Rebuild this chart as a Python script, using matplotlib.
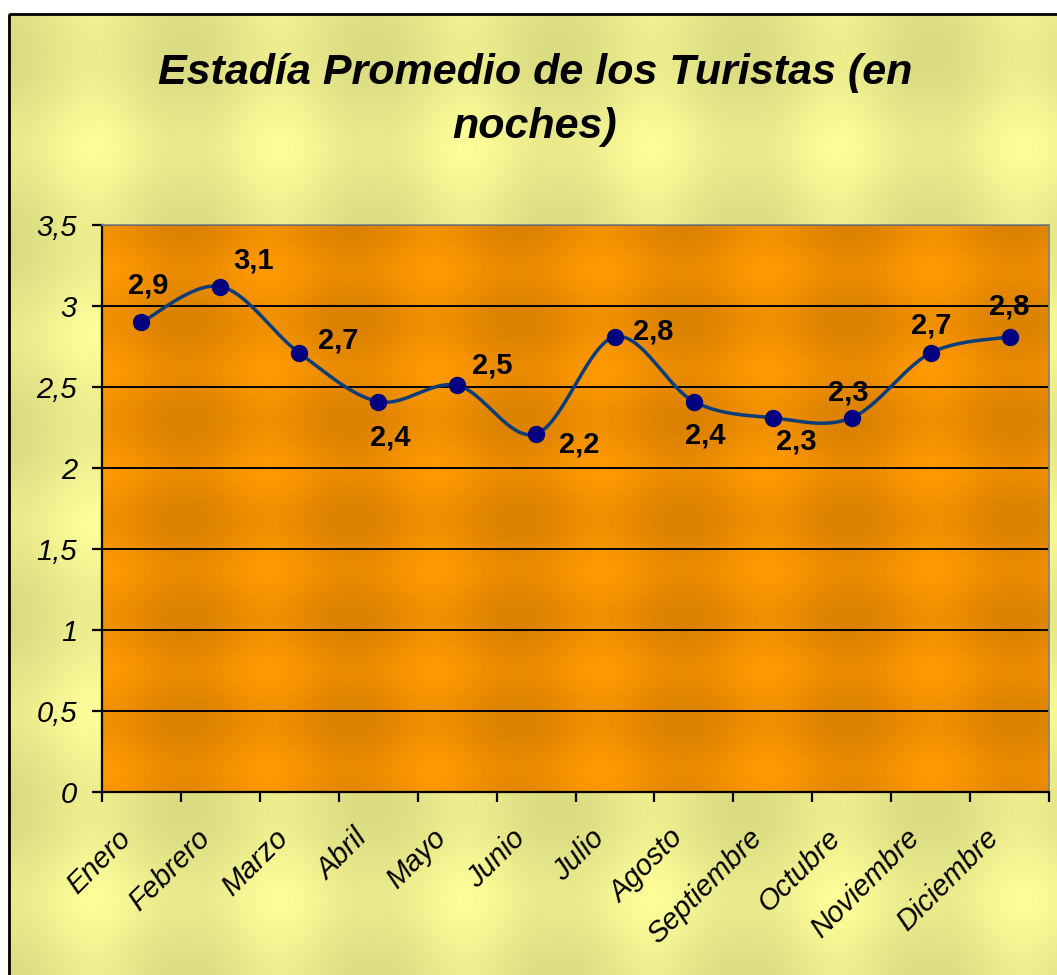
import numpy as np
import matplotlib
matplotlib.use("Agg")
import matplotlib.pyplot as plt
from matplotlib.patches import Rectangle
from matplotlib.transforms import ScaledTranslation

# ---- data ----
months = ["Enero", "Febrero", "Marzo", "Abril", "Mayo", "Junio", "Julio",
          "Agosto", "Septiembre", "Octubre", "Noviembre", "Diciembre"]
values = [2.9, 3.12, 2.71, 2.41, 2.51, 2.21, 2.81, 2.41, 2.31, 2.31, 2.71, 2.81]
labels = ["2,9", "3,1", "2,7", "2,4", "2,5", "2,2", "2,8", "2,4", "2,3", "2,3", "2,7", "2,8"]
yticks = [0, 0.5, 1, 1.5, 2, 2.5, 3, 3.5]
ytick_labels = ["0", "0,5", "1", "1,5", "2", "2,5", "3", "3,5"]
title = "Estadía Promedio de los Turistas (en\nnoches)"

# label offsets in pixels (style)
label_off = [(7, -37), (33, -26), (39, -12), (12, 36), (35, -20), (43, 11),
             (38, -5), (11, 34), (23, 24), (-3, -25), (1, -27), (0, -30)]

plt.rcParams['font.family'] = ['Liberation Sans', 'DejaVu Sans']

W, H = 1057, 975
fig = plt.figure(figsize=(W / 100, H / 100), dpi=100)
fig.patch.set_facecolor('white')

def band(v, period, phase):
    return 0.5 + 0.5 * np.cos(2 * np.pi * (v - phase) / period)

# ---- background texture (yellow) ----
bg = fig.add_axes([0, 0, 1, 1], zorder=-10)
bg.set_axis_off()
yy, xx = np.mgrid[0:H, 0:W]
t = 0.55 * band(xx, 186, 93) ** 1.3 + 0.45 * band(yy, 188, 147) ** 1.3
t = np.clip(t, 0, 1)
c_dark = np.array([0.86, 0.86, 0.51])
c_light = np.array([0.99, 0.99, 0.60])
img = c_dark[None, None, :] * (1 - t[..., None]) + c_light[None, None, :] * t[..., None]
img[:13, :, :] = 1
img[:, :8, :] = 1
bg.imshow(img, extent=(0, W, H, 0), aspect='auto', interpolation='bilinear')
bg.set_xlim(0, W)
bg.set_ylim(H, 0)
bg.add_patch(Rectangle((8.5, 13.5), W + 10, H + 10, fill=False, edgecolor='black', linewidth=2))

# ---- plot axes ----
x0, x1, y0, y1 = 102, 1049, 225, 792
ax = fig.add_axes([x0 / W, 1 - y1 / H, (x1 - x0) / W, (y1 - y0) / H])
x = np.arange(len(months))
ax.set_xlim(-0.5, len(months) - 0.5)
ax.set_ylim(0, 3.5)

# orange textured plot area
ph, pw = y1 - y0, x1 - x0
py, px = np.mgrid[0:ph, 0:pw]
u = 0.6 * band(px, 166, 0) ** 1.2 + 0.4 * band(py, 100, 345) ** 1.2
u = np.clip(u, 0, 1)
o_dark = np.array([0.86, 0.51, 0.0])
o_light = np.array([1.0, 0.60, 0.0])
oimg = o_dark[None, None, :] * (1 - u[..., None]) + o_light[None, None, :] * u[..., None]
ax.imshow(oimg, extent=(-0.5, len(months) - 0.5, 0, 3.5), aspect='auto',
          interpolation='bilinear', zorder=0)

# gridlines
for v in yticks[1:]:
    ax.axhline(v, color='black', linewidth=1.4, zorder=1)

# smooth curve (Catmull-Rom through points)
def catmull(xs, ys, n=30):
    P = np.column_stack([xs, ys]).astype(float)
    P = np.vstack([P[0], P, P[-1]])
    out = []
    for i in range(1, len(P) - 2):
        p0, p1, p2, p3 = P[i - 1], P[i], P[i + 1], P[i + 2]
        tt = np.linspace(0, 1, n)[:, None]
        seg = 0.5 * ((2 * p1) + (-p0 + p2) * tt + (2 * p0 - 5 * p1 + 4 * p2 - p3) * tt ** 2
                     + (-p0 + 3 * p1 - 3 * p2 + p3) * tt ** 3)
        out.append(seg)
    out = np.vstack(out)
    return out[:, 0], out[:, 1]

sx, sy = catmull(x, values)
ax.plot(sx, sy, color='#0B3D7A', linewidth=2.5, zorder=3, solid_capstyle='round')
ax.plot(x, values, linestyle='none', marker='o', markersize=11.5,
        markerfacecolor='#000080', markeredgecolor='#000080', zorder=4)

for xi, v, lab, (dx, dy) in zip(x, values, labels, label_off):
    ax.annotate(lab, (xi, v), xytext=(dx * 0.72, -dy * 0.72), textcoords='offset points',
                ha='center', va='center', fontsize=21, fontweight='bold', color='black', zorder=5)

# spines
for s in ['left', 'bottom']:
    ax.spines[s].set_color('black')
    ax.spines[s].set_linewidth(1.6)
for s in ['top', 'right']:
    ax.spines[s].set_color('#808080')
    ax.spines[s].set_linewidth(1.2)

# y axis
ax.set_yticks(yticks)
ax.set_yticklabels(ytick_labels, fontsize=21, fontstyle='italic')
ax.tick_params(axis='y', direction='out', length=7, width=1.6, pad=11)

# x axis: ticks at boundaries, labels at centers
ax.set_xticks(np.arange(-0.5, len(months), 1.0))
ax.set_xticklabels([])
ax.tick_params(axis='x', which='major', direction='out', length=7, width=1.6)
ax.set_xticks(x, minor=True)
ax.set_xticklabels(months, minor=True, fontsize=21, fontstyle='italic',
                   rotation=45, ha='right', va='top', rotation_mode='anchor')
ax.tick_params(axis='x', which='minor', length=0, pad=23)
off = ScaledTranslation(-25 / 100, 0, fig.dpi_scale_trans)
for tk in ax.xaxis.get_minor_ticks():
    tk.label1.set_transform(tk.label1.get_transform() + off)

fig.text(535 / W, 1 - 100 / H, title, ha='center', va='center', fontsize=31,
         fontweight='bold', fontstyle='italic', linespacing=1.45)

fig.savefig('out.png', dpi=100, facecolor=fig.get_facecolor())
